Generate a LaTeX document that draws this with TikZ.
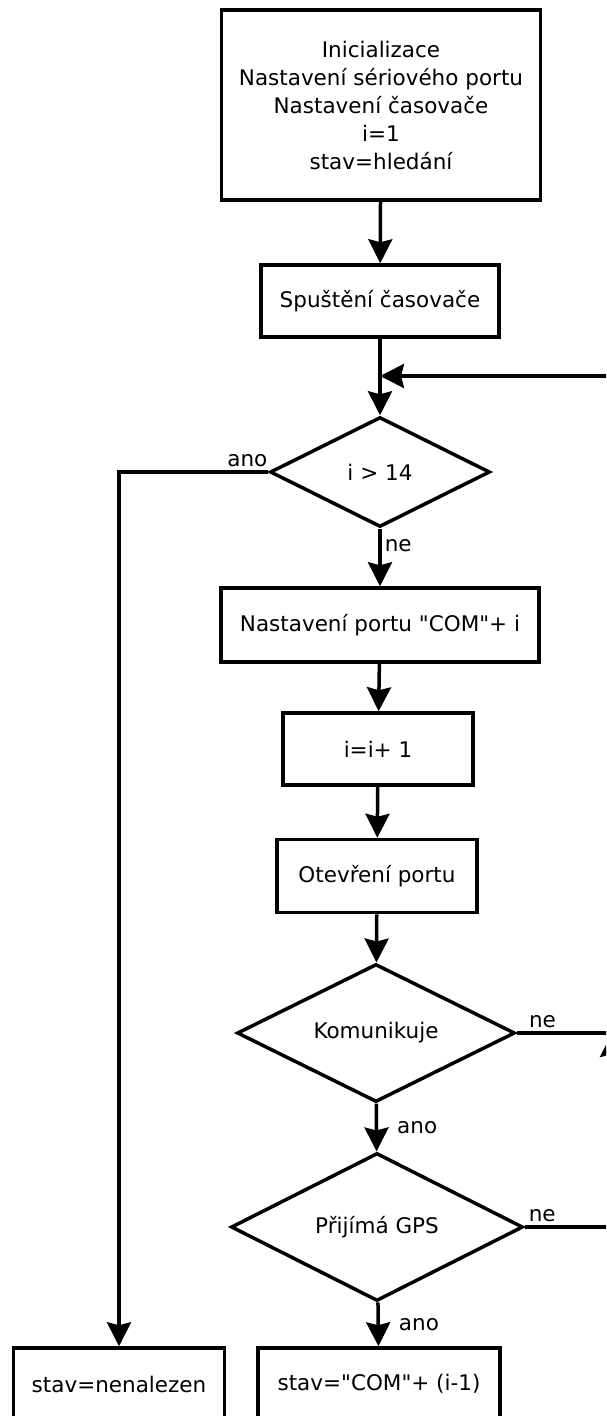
\documentclass[tikz,border=0pt]{standalone}
\usepackage{fontspec}
\setmainfont{DejaVu Sans}
\usetikzlibrary{shapes.geometric,arrows.meta}

\begin{document}
\begin{tikzpicture}[x=1pt,y=-1pt,line width=3.5pt,
  font=\fontsize{21.5}{28}\selectfont,
  box/.style={draw,rectangle,inner sep=0pt,align=center},
  decision/.style={draw,diamond,inner sep=0pt,aspect=2},
  tok/.style={-{Stealth[length=24pt,width=24pt,inset=3pt]}},
  lbl/.style={inner sep=3pt}]
\useasboundingbox (0,0) rectangle (606,1416);
\clip (0,0) rectangle (606,1416);
%% bloky
\node[box,minimum width=319pt,minimum height=190pt] (init) at (381,105)
  {Inicializace\\Nastavení sériového portu\\Nastavení časovače\\i=1\\stav=hledání};
\node[box,minimum width=238pt,minimum height=72pt] (start) at (380,301) {Spuštění časovače};
\coordinate (join) at (380,376);
\coordinate (right) at (612,376);
\node[decision,minimum width=220pt,minimum height=110pt] (over) at (380,472) {i > 14};
\node[box,minimum width=318pt,minimum height=74pt] (port) at (380,625)
  {Nastavení portu \textquotedbl COM\textquotedbl+ i};
\node[box,minimum width=190pt,minimum height=72pt] (inc) at (378,749) {i=i+ 1};
\node[box,minimum width=200pt,minimum height=73pt] (open) at (377,876) {Otevření portu};
\node[decision,minimum width=278pt,minimum height=138pt] (comm) at (376,1033) {Komunikuje};
\node[decision,minimum width=292pt,minimum height=148pt] (gps) at (377,1227) {Přijímá GPS};
\node[box,minimum width=211pt,minimum height=72pt] (notfound) at (119,1384) {stav=nenalezen};
\node[box,minimum width=242pt,minimum height=72pt] (found) at (379,1384)
  {stav=\textquotedbl COM\textquotedbl+ (i-1)};
%% spoje
\draw[tok] (init) -- (start);
\draw (start) -- (join);
\draw[tok] (join) -- (over);
\draw[tok] (over) -- node[lbl,anchor=west,pos=.3] {ne} (port);
\draw[tok] (over.west) -| node[lbl,above,pos=.07] {ano} (notfound);
\draw[tok] (port) -- (inc);
\draw[tok] (inc) -- (open);
\draw[tok] (open) -- (comm);
\draw[tok] (comm) -- node[lbl,anchor=west,xshift=16pt] {ano} (gps);
\draw[tok] (gps) -- node[lbl,anchor=west,xshift=16pt] {ano} (found);
%% navrat do smycky
\draw[tok] (comm.east) -- node[lbl,above,pos=.27] {ne} (comm.east -| right) -- (right) -- (join);
\draw[tok] (gps.east) -- node[lbl,above,pos=.2] {ne} (gps.east -| right) -- (comm.east -| right);
\end{tikzpicture}
\end{document}
